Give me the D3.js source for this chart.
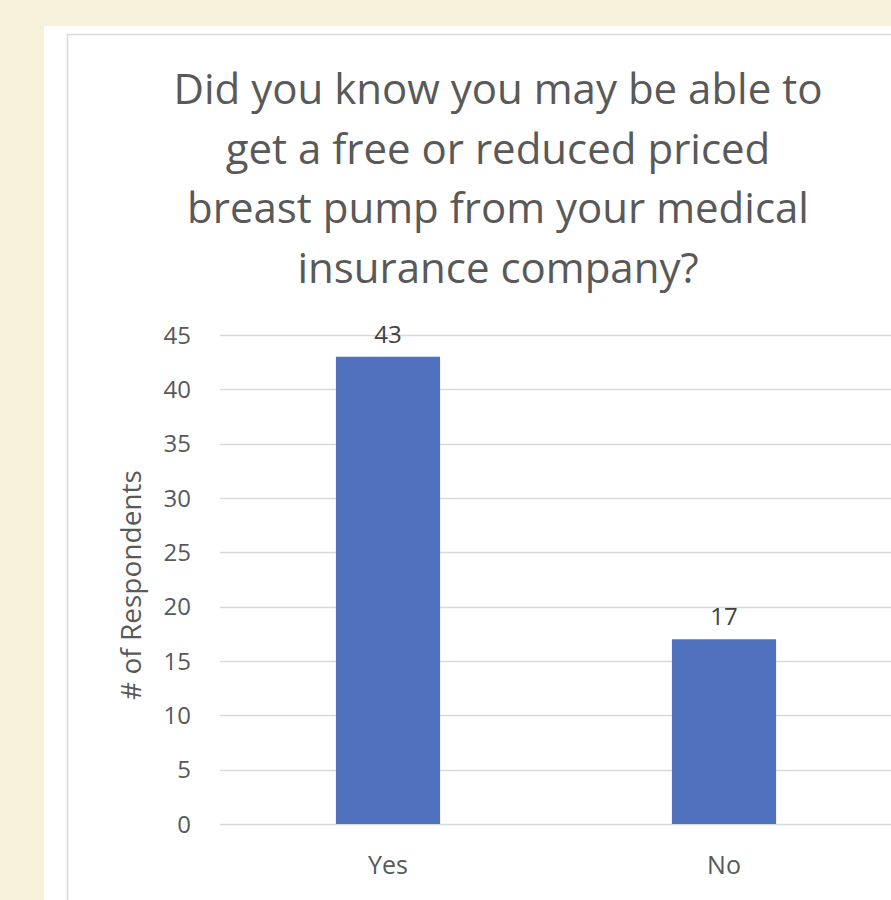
<!DOCTYPE html>
<html>
<head>
<meta charset="utf-8">
<script src="https://cdn.jsdelivr.net/npm/d3@7"></script>
<style>
html, body { margin:0; padding:0; background:#f8f1da; overflow:hidden; }
svg { display:block; }
</style>
</head>
<body>
<svg id="chart" width="891" height="900"></svg>
<script>
var categories = ["Yes", "No"];
var values = [43, 17];
var yTicks = [0, 5, 10, 15, 20, 25, 30, 35, 40, 45];
var titleLines = ["Did you know you may be able to", "get a free or reduced priced", "breast pump from your medical", "insurance company?"];
var yTitle = "# of Respondents";

var svg = d3.select("#chart");
var font = "'Open Sans', sans-serif";
var grey = "#595959";

// white slide panel + chart frame
svg.append("rect").attr("x", 44).attr("y", 26).attr("width", 900).attr("height", 900).attr("fill", "#fff");
svg.append("rect").attr("x", 67.5).attr("y", 34.5).attr("width", 900).attr("height", 900)
	.attr("fill", "#fff").attr("stroke", "#d9d9d9").attr("stroke-width", 1.5);

var x = d3.scaleBand()
	.domain(categories)
	.range([220, 892])
	.paddingInner(0.69)
	.paddingOuter(0.345);

var y = d3.scaleLinear()
	.domain([0, 45])
	.range([824, 335]);

// gridlines
svg.append("g").selectAll("line").data(yTicks).enter().append("line")
	.attr("x1", 220).attr("x2", 892)
	.attr("y1", function(d) { return Math.round(y(d)) + 0.5; })
	.attr("y2", function(d) { return Math.round(y(d)) + 0.5; })
	.attr("stroke", "#d9d9d9").attr("stroke-width", 1.3);

// y tick labels
svg.append("g").selectAll("text").data(yTicks).enter().append("text")
	.attr("x", 191).attr("y", function(d) { return y(d); })
	.attr("dy", "0.36em")
	.attr("text-anchor", "end")
	.attr("font-family", font).attr("font-size", 24).attr("fill", grey)
	.text(function(d) { return d; });

// bars
svg.append("g").selectAll("rect").data(values).enter().append("rect")
	.attr("x", function(d, i) { return x(categories[i]); })
	.attr("y", function(d) { return y(d); })
	.attr("width", x.bandwidth())
	.attr("height", function(d) { return y(0) - y(d); })
	.attr("fill", "#4f71be");

// data labels
svg.append("g").selectAll("text").data(values).enter().append("text")
	.attr("x", function(d, i) { return x(categories[i]) + x.bandwidth() / 2; })
	.attr("y", function(d) { return y(d) - 14; })
	.attr("text-anchor", "middle")
	.attr("font-family", font).attr("font-size", 24).attr("fill", "#404040")
	.text(function(d) { return d; });

// category labels
svg.append("g").selectAll("text").data(categories).enter().append("text")
	.attr("x", function(d) { return x(d) + x.bandwidth() / 2; })
	.attr("y", 874)
	.attr("text-anchor", "middle")
	.attr("font-family", font).attr("font-size", 25).attr("fill", grey)
	.text(function(d) { return d; });

// axis title
svg.append("text")
	.attr("transform", "translate(141,585) rotate(-90)")
	.attr("text-anchor", "middle")
	.attr("font-family", font).attr("font-size", 28).attr("fill", grey)
	.text(yTitle);

// chart title
svg.append("g").selectAll("text").data(titleLines).enter().append("text")
	.attr("x", 498)
	.attr("y", function(d, i) { return 104 + i * 59.5; })
	.attr("text-anchor", "middle")
	.attr("font-family", font).attr("font-size", 42).attr("fill", grey)
	.text(function(d) { return d; });
</script>
</body>
</html>
